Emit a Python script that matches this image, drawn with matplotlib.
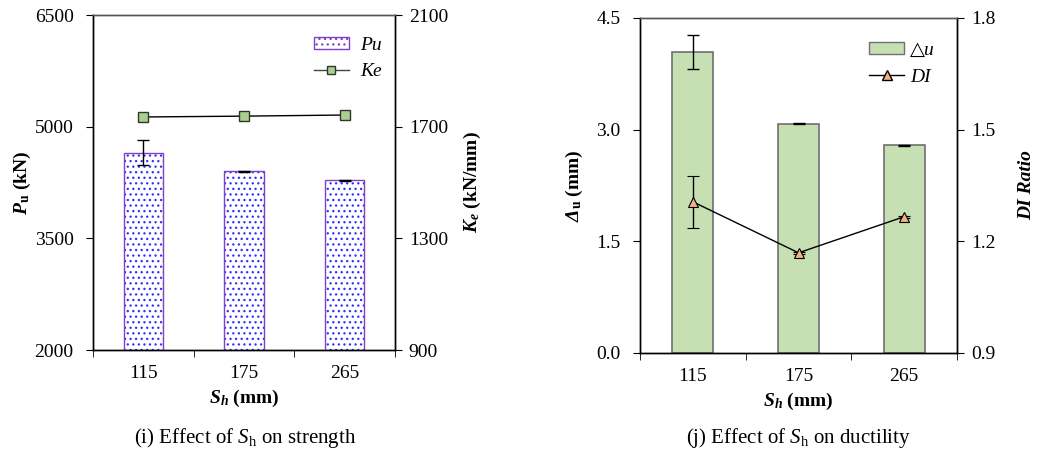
import matplotlib
matplotlib.use("Agg")
import matplotlib.pyplot as plt
import numpy as np
from matplotlib.patches import Patch
from matplotlib.lines import Line2D

plt.rcParams['font.family'] = ['Liberation Serif', 'DejaVu Sans']
plt.rcParams['mathtext.fontset'] = 'custom'
plt.rcParams['mathtext.rm'] = 'Liberation Serif'
plt.rcParams['mathtext.it'] = 'Liberation Serif:italic'
plt.rcParams['mathtext.bf'] = 'Liberation Serif:bold'
plt.rcParams['mathtext.bfit'] = 'Liberation Serif:italic:bold'
plt.rcParams['hatch.linewidth'] = 0.9

categories = ['115', '175', '265']
pu = [4650, 4400, 4280]
pu_err = [170, 8, 5]
ke = [1735, 1738, 1742]
ke_err = [6, 2, 2]
du = [4.04, 3.08, 2.79]
du_err = [0.23, 0.005, 0.005]
di = [1.306, 1.169, 1.266]
di_err = [0.07, 0.003, 0.003]

FS = 14
fig = plt.figure(figsize=(10.38, 4.57), dpi=100)
x = np.arange(len(categories))
w = 0.39

def style_axes(ax, ax2):
    ax.set_xlim(-0.5, 2.5)
    ax.set_xticks(x)
    ax.set_xticklabels(categories, fontsize=FS)
    ax.set_xticks([-0.5, 0.5, 1.5, 2.5], minor=True)
    ax.tick_params(axis='x', which='major', length=0, pad=11)
    ax.tick_params(axis='x', which='minor', length=5, direction='out')
    ax.tick_params(axis='y', direction='out', length=5, labelsize=FS, pad=9)
    ax2.tick_params(axis='y', direction='out', length=5, labelsize=FS, pad=5)
    for a in (ax, ax2):
        for s in a.spines.values():
            s.set_linewidth(1.0)
        a.spines['top'].set_color('#555555')

# ---- left panel ----
ax1 = fig.add_axes([0.0896, 0.234, 0.2909, 0.733])
ax1b = ax1.twinx()
ax1.bar(x, pu, width=w, color='white', edgecolor='#3030ff', hatch='...', linewidth=0, zorder=2)
ax1.bar(x, pu, width=w, color='none', edgecolor='#8040c8', linewidth=1.0, zorder=3)
ax1.errorbar(x, pu, yerr=pu_err, fmt='none', ecolor='black', elinewidth=1, capsize=4, zorder=4)
ax1.set_ylim(2000, 6500)
ax1.set_yticks([2000, 3500, 5000, 6500])
ax1b.errorbar(x, ke, yerr=ke_err, color='black', lw=1, marker='s', ms=6.5,
              mfc='#a9d18e', mec='#333333', mew=1, capsize=3, zorder=5)
ax1b.set_ylim(900, 2100)
ax1b.set_yticks([900, 1300, 1700, 2100])
style_axes(ax1, ax1b)
ax1.set_xlabel(r'$\mathbfit{S_h}$ (mm)', fontsize=FS, fontweight='bold', labelpad=4)
ax1.set_ylabel(r'$\mathbfit{P}_\mathbf{u}$ (kN)', fontsize=FS, fontweight='bold', labelpad=1)
ax1b.set_ylabel(r'$\mathbfit{K_e}$ (kN/mm)', fontsize=FS, fontweight='bold', labelpad=10)

h1 = Patch(facecolor='white', edgecolor='#8040c8', hatch='...')
h2 = Line2D([], [], color='#444444', lw=1, marker='s', ms=6, mfc='#a9d18e', mec='#333333')
ax1.legend([h1, h2], ['Pu', 'Ke'], loc='upper right', bbox_to_anchor=(0.983, 0.959),
           frameon=False, prop=dict(family='Liberation Serif', style='italic', size=FS),
           handlelength=1.8, handleheight=0.55, handletextpad=0.6,
           borderaxespad=0, labelspacing=0.5)

# ---- right panel ----
ax2 = fig.add_axes([0.6166, 0.2276, 0.3054, 0.7334])
ax2b = ax2.twinx()
ax2.bar(x, du, width=w, color='#c6e0b4', edgecolor='#707070', linewidth=1.2, zorder=2)
ax2.errorbar(x, du, yerr=du_err, fmt='none', ecolor='black', elinewidth=1, capsize=4, zorder=4)
ax2.set_ylim(0, 4.5)
ax2.set_yticks([0.0, 1.5, 3.0, 4.5])
ax2.set_yticklabels(['0.0', '1.5', '3.0', '4.5'])
ax2b.errorbar(x, di, yerr=di_err, color='black', lw=1, marker='^', ms=7.5,
              mfc='#f4b183', mec='black', mew=0.8, capsize=4, zorder=5)
ax2b.set_ylim(0.9, 1.8)
ax2b.set_yticks([0.9, 1.2, 1.5, 1.8])
ax2b.set_yticklabels(['0.9', '1.2', '1.5', '1.8'])
style_axes(ax2, ax2b)
ax2.set_xlabel(r'$\mathbfit{S_h}$ (mm)', fontsize=FS, fontweight='bold', labelpad=4)
ax2.set_ylabel(r'$\mathbfit{\Delta}_\mathbf{u}$ (mm)', fontsize=FS, fontweight='bold', labelpad=8)
ax2b.set_ylabel('DI Ratio', fontsize=FS, fontweight='bold', style='italic', labelpad=16)
g1 = Patch(facecolor='#c6e0b4', edgecolor='#707070')
g2 = Line2D([], [], color='black', lw=1, marker='^', ms=7, mfc='#f4b183', mec='black')
ax2.legend([g1, g2], ['△u', 'DI'], loc='upper right', bbox_to_anchor=(0.955, 0.951),
           frameon=False, prop=dict(family=['Liberation Serif', 'DejaVu Sans'], style='italic', size=FS),
           handlelength=1.8, handleheight=0.55, handletextpad=0.3,
           borderaxespad=0, labelspacing=0.5)

fig.text(0.236, 0.03, r'(i) Effect of $\mathit{S}_\mathrm{h}$ on strength', ha='center', fontsize=15)
fig.text(0.769, 0.03, r'(j) Effect of $\mathit{S}_\mathrm{h}$ on ductility', ha='center', fontsize=15)

fig.savefig('out.png', dpi=100)
